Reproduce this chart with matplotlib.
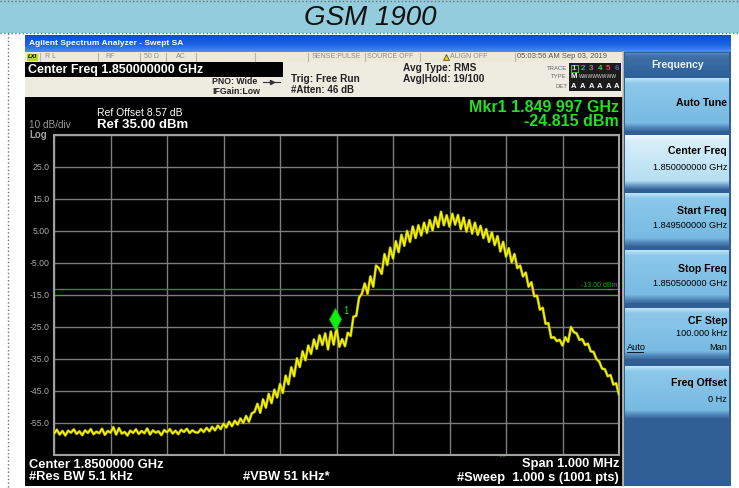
import numpy as np
import matplotlib
matplotlib.use("Agg")
import matplotlib.pyplot as plt
from matplotlib.patches import Rectangle
from matplotlib.colors import to_rgb
import matplotlib.transforms as mtransforms

plt.rcParams['font.family'] = ['Liberation Sans', 'DejaVu Sans']

W, H = 739, 488

# ---------------- data ----------------
title = "GSM 1900"
start_mhz = 1849.5
stop_mhz = 1850.5
ref_level_dbm = 35.0
db_per_div = 10.0
limit_dbm = -13.0
marker_mhz = 1849.997
marker_dbm = -24.815

trace_dbm = [
    -58.3, -57.1, -58.6, -57.5, -58.9, -57.4, -58.0, -57.0, -58.4, -57.6,
    -58.8, -57.3, -58.1, -56.9, -58.5, -57.7, -58.2, -56.8, -58.7, -57.5,
    -58.0, -56.3, -58.6, -56.6, -58.3, -57.8, -58.9, -57.4, -58.1, -57.0,
    -58.4, -57.5, -58.2, -56.7, -58.6, -57.3, -58.0, -57.6, -58.8, -57.2,
    -57.9, -56.9, -58.3, -57.4, -58.5, -57.1, -57.8, -56.8, -58.1, -57.3,
    -57.9,
    -58.0, -56.9, -57.8, -56.5, -57.6, -56.2, -57.3, -55.8, -56.9, -55.2,
    -56.4, -54.6, -56.0, -54.3, -55.5, -53.6, -55.0, -52.8, -54.6, -52.0,
    -51.5, -49.0, -51.8, -47.6, -50.2, -45.9, -48.8, -44.6, -47.0, -42.8,
    -45.6, -40.2, -42.9, -37.6, -40.4, -34.8, -37.5, -32.6, -35.4, -30.8,
    -33.4, -28.9, -31.8, -27.6, -30.6, -27.0, -32.0, -26.4, -30.5, -25.2,
    -31.2, -28.8, -31.0, -26.8, -27.8, -21.8, -21.5, -15.8, -14.6,
    -11.4, -14.6, -9.2, -12.4, -5.8, -6.6, -8.4, -2.2, -5.6, -0.2,
    -3.6, 1.8, -1.6, 3.8, 0.4, 5.0, 1.6, 6.4, 2.8, 6.8, 3.6,
    7.6, 4.4, 8.4, 5.2, 9.4, 6.2, 11.0, 6.8, 9.9, 6.4,
    10.4, 7.0, 10.0, 5.6, 9.2, 4.8, 8.4, 4.2, 7.6, 3.8,
    6.6, 2.8, 5.6, 1.6, 4.6, 0.6, 3.4, -1.4, 1.6, -3.0,
    -0.4, -4.8, -2.2, -6.6, -5.8, -9.2, -8.0, -12.4, -11.0, -15.4,
    -15.2, -19.6, -19.0, -24.0, -23.8, -28.4, -28.2, -29.4, -29.0, -30.8,
    -28.2, -29.6, -25.0, -26.6, -27.0, -29.0, -28.8, -30.6, -30.2, -32.6,
    -32.8, -35.0, -35.8, -38.0, -38.2, -40.4, -40.0, -43.0, -42.6, -46.2,
]
freq_mhz = np.linspace(start_mhz, stop_mhz, len(trace_dbm))

ytick_values = [25, 15, 5, -5, -15, -25, -35, -45, -55]
ytick_labels = ["25.0", "15.0", "5.00", "-5.00", "-15.0", "-25.0", "-35.0", "-45.0", "-55.0"]

softkeys = [
    ("Auto Tune", None),
    ("Center Freq", "1.850000000 GHz"),
    ("Start Freq", "1.849500000 GHz"),
    ("Stop Freq", "1.850500000 GHz"),
    ("CF Step", "100.000 kHz"),
    ("Freq Offset", "0 Hz"),
]

# ---------------- figure ----------------
fig = plt.figure(figsize=(W / 100, H / 100), dpi=100)
bg = fig.add_axes([0, 0, 1, 1])
bg.axis('off')
bg.set_autoscale_on(False)
bg.set_xlim(0, W)
bg.set_ylim(H, 0)


def rect(x0, y0, x1, y1, color, z=1, ec='none', lw=0):
    bg.add_patch(Rectangle((x0, y0), x1 - x0, y1 - y0, facecolor=color,
                           edgecolor=ec, lw=lw, zorder=z))


def grad(x0, y0, x1, y1, stops, z=1):
    pos = np.array([s[0] for s in stops])
    cols = np.array([to_rgb(s[1]) for s in stops])
    t = np.linspace(0, 1, 128)
    img = np.stack([np.interp(t, pos, cols[:, i]) for i in range(3)], axis=1)[:, None, :]
    bg.imshow(img, extent=(x0, x1, y1, y0), aspect='auto',
              interpolation='bilinear', zorder=z)


def txt(x, y, s, size, color='black', weight='normal', ha='left', style='normal', z=5, **kw):
    bg.text(x, y, s, fontsize=size, color=color, fontweight=weight, ha=ha,
            va='center', fontstyle=style, zorder=z, **kw)


# banner
rect(0, 0, W, 33, '#93CDDD')
bg.plot([0, W], [1, 1], ls=':', color='#707070', lw=1, zorder=2)
bg.plot([0, W], [33, 33], ls=':', color='#707070', lw=1, zorder=2)
bg.plot([8, 8], [33, H], ls=':', color='#707070', lw=1, zorder=2)
txt(370, 18, title, 20, color='#111111', ha='center', style='italic')

# window title bar
grad(25, 35, 731, 52, [(0, '#0A4BD6'), (0.6, '#1F66E6'), (1, '#4A90F2')])
txt(29, 43.5, "Agilent Spectrum Analyzer - Swept SA", 6, color='white', weight='bold')

# status row
rect(25, 52, 623, 62, '#ECE9D8', z=1)
for xs in [40, 98, 140, 166, 196, 255, 308, 365, 420, 515]:
    bg.plot([xs, xs], [53, 61], color='#B8B4A8', lw=0.8, zorder=2)
rect(27, 53.5, 38, 60.5, '#B8D430', z=2)
txt(32.5, 57, "LXI", 4.2, color='black', weight='bold', ha='center', style='italic')
status_items = [(45, "R L"), (105, "RF"), (144, "50 Ω"), (176, "AC"),
                (312, "SENSE:PULSE"), (367, "SOURCE OFF"), (450, "ALIGN OFF")]
for xs, s in status_items:
    txt(xs, 57, s, 5, color='#8C8C8C')
bg.plot([446], [57], marker='^', ms=5, color='#E8C800', mec='#222222', mew=0.4, zorder=5)
txt(517, 57, "05:03:56 AM Sep 03, 2019", 5.5, color='#555555')

# header panel
rect(25, 62, 623, 97, '#EEEBE0', z=1)
rect(25, 62, 283, 77, 'black', z=2)
txt(28, 69.5, "Center Freq 1.850000000 GHz", 9, color='white', weight='bold')
txt(212, 82, "PNO: Wide", 6.3, weight='bold', color='#222222')
bg.plot([263, 280], [82, 82], color='#333333', lw=0.8, zorder=5)
bg.plot([271.5], [82], marker='>', ms=3, color='#333333', zorder=5)
txt(212, 91, "IFGain:Low", 6.3, weight='bold', color='#222222')
txt(291, 79, "Trig: Free Run", 7.3, weight='bold', color='#222222')
txt(291, 90, "#Atten: 46 dB", 7, weight='bold', color='#222222')
txt(403, 68, "Avg Type: RMS", 7.3, weight='bold', color='#222222')
txt(403, 79, "Avg|Hold: 19/100", 7.3, weight='bold', color='#222222')
txt(567, 68, "TRACE", 4.3, color='#666666', ha='right')
txt(567, 77, "TYPE", 4.3, color='#666666', ha='right')
txt(567, 86, "DET", 4.3, color='#666666', ha='right')
rect(569, 63, 621, 91, '#1C1C1C', z=2)
tcolors = ['#E8E800', '#00B4FF', '#FF40FF', '#40E040', '#FF4040', '#4A5CFF']
for i, c in enumerate(tcolors):
    xc = 574 + 8.6 * i
    txt(xc, 68, str(i + 1), 5.8, color=c, weight='bold', ha='center')
    txt(xc, 86, "A", 5.5, color='white', weight='bold', ha='center')
rect(570.5, 64.5, 577.5, 72, 'none', z=3, ec='#40E040', lw=0.6)
txt(574, 77, "M", 5.5, color='white', weight='bold', ha='center')
txt(579, 77, "WWWWWWWW", 3.6, color='#DDDDDD', ha='left')

# screen
rect(25, 97, 623, 486, 'black', z=1)

# soft key panel
rect(623, 52, 731, 486, '#2F5F95', z=1)
bg.plot([623, 623], [52, 486], color='#C8C4B8', lw=1.2, zorder=2)
grad(625, 53, 729, 76, [(0, '#5A89BA'), (0.15, '#3E70A6'), (1, '#2E6099')], z=2)
txt(678, 64.5, "Frequency", 7.5, color='#F0F4FA', weight='bold', ha='center')

btn_y = [(78, 131), (135, 189), (193, 246), (250, 303), (308, 359), (366, 418)]
for i, (y0, y1) in enumerate(btn_y):
    if i == 1:
        stops = [(0, '#F2FAFE'), (0.1, '#D8EFFA'), (0.85, '#B6DEF2'), (0.93, '#6E9EC8'), (1, '#3C6C9E')]
    else:
        stops = [(0, '#C0E4F6'), (0.1, '#8CC8EA'), (0.85, '#78BAE2'), (0.93, '#5289BC'), (1, '#3C6C9E')]
    grad(625, y0, 729, y1, stops, z=2)

label_y = [103, 151, 211, 269, 321, 383]
value_y = [None, 168, 226, 284, 334, 400]
for (lab, val), ly, vy in zip(softkeys, label_y, value_y):
    txt(727, ly, lab, 7.6, weight='bold', ha='right')
    if val is not None:
        txt(727, vy, val, 6.6, ha='right')
txt(627, 347, "Auto", 6.6, ha='left')
bg.plot([627, 643], [351.5, 351.5], color='black', lw=0.6, zorder=5)
txt(727, 347, "Man", 6.6, ha='right')

# screen texts
txt(97, 113, "Ref Offset 8.57 dB", 7.5, color='white')
txt(97, 124.5, "Ref 35.00 dBm", 9.5, color='white', weight='bold')
txt(29, 124.5, "10 dB/div", 7.2, color='#9A9A9A')
txt(29, 134.5, "Log", 7, color='#A0A0A0', weight='bold')
txt(619, 107, "Mkr1 1.849 997 GHz", 11.5, color='#22E022', weight='bold', ha='right')
txt(619, 121, "-24.815 dBm", 11.5, color='#22E022', weight='bold', ha='right')
txt(29, 464.5, "Center 1.8500000 GHz", 9.3, color='white', weight='bold')
txt(29, 477.5, "#Res BW 5.1 kHz", 9.3, color='white', weight='bold')
txt(243, 477.5, "#VBW 51 kHz*", 9.3, color='white', weight='bold')
txt(619, 464.5, "Span 1.000 MHz", 9.3, color='white', weight='bold', ha='right')
txt(619, 477.5, "#Sweep  1.000 s (1001 pts)", 9.3, color='white', weight='bold', ha='right')
txt(502, 457.5, "^", 6, color='#20C020', weight='bold', ha='center')

# ---------------- plot ----------------
ax = fig.add_axes([54 / W, (H - 455) / H, 565 / W, 320 / H])
ax.set_facecolor('black')
ax.set_xlim(start_mhz, stop_mhz)
ax.set_ylim(ref_level_dbm - 10 * db_per_div, ref_level_dbm)
ax.set_xticks(np.linspace(start_mhz, stop_mhz, 11))
all_y = np.arange(ref_level_dbm - 10 * db_per_div, ref_level_dbm + 1, db_per_div)
ax.set_yticks(all_y)
ax.set_yticklabels([ytick_labels[ytick_values.index(int(v))] if int(v) in ytick_values else ''
                    for v in all_y])
ax.set_xticklabels([])
ax.tick_params(length=0, labelsize=6.3, labelcolor='#A8A8A8', pad=3)
ax.grid(True, color='#7C7C7C', lw=1)
ax.set_axisbelow(True)
for sp in ax.spines.values():
    sp.set_color('#A0A0A0')
    sp.set_linewidth(1.5)

ax.axhline(limit_dbm, color='#00A800', lw=1, zorder=2)
ax.text(0.997, limit_dbm, "-13.00 dBm", transform=mtransforms.blended_transform_factory(ax.transAxes, ax.transData),
        ha='right', va='bottom', fontsize=5, color='#10B010')
ax.plot(freq_mhz, trace_dbm, color='#9A9A00', lw=2.0, zorder=3)
ax.plot(freq_mhz, trace_dbm, color='#F5F500', lw=1.1, zorder=4)

off = mtransforms.offset_copy(ax.transData, fig=fig, x=0, y=5.4, units='points')
ax.plot([marker_mhz], [marker_dbm], marker='d', ms=11, color='#10F010', mec='#00C000',
        mew=0.5, transform=off, zorder=6)
off2 = mtransforms.offset_copy(ax.transData, fig=fig, x=6, y=11, units='points')
ax.text(marker_mhz, marker_dbm, "1", transform=off2, fontsize=7, color='#20E020',
        ha='left', va='center', zorder=6)

bg.set_xlim(0, W)
bg.set_ylim(H, 0)
fig.savefig("out.png", dpi=100, facecolor='white')
